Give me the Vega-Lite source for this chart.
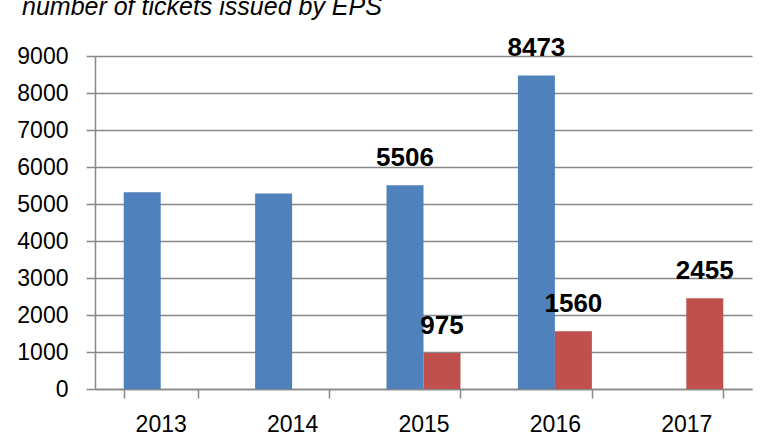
{
  "$schema": "https://vega.github.io/schema/vega-lite/v6.json",
  "width": 657,
  "height": 333,
  "autosize": "none",
  "padding": {"left": 95, "top": 56, "right": 28, "bottom": 50},
  "background": "white",
  "title": {
    "text": "number of tickets issued by EPS",
    "anchor": "start",
    "frame": "group",
    "dx": -73,
    "offset": 10,
    "dy": 15,
    "font": "Liberation Sans",
    "fontSize": 25,
    "fontStyle": "italic",
    "fontWeight": "normal",
    "color": "black",
    "baseline": "alphabetic"
  },
  "config": {"view": {"stroke": null}},
  "data": {
    "values": [
      {"year": "2013", "series": "Series 1", "value": 5320, "label": ""},
      {"year": "2014", "series": "Series 1", "value": 5285, "label": ""},
      {"year": "2015", "series": "Series 1", "value": 5506, "label": "5506"},
      {"year": "2016", "series": "Series 1", "value": 8473, "label": "8473"},
      {"year": "2015", "series": "Series 2", "value": 975, "label": "975"},
      {"year": "2016", "series": "Series 2", "value": 1560, "label": "1560"},
      {"year": "2017", "series": "Series 2", "value": 2455, "label": "2455"}
    ]
  },
  "encoding": {
    "x": {
      "field": "year",
      "type": "nominal",
      "sort": ["2013", "2014", "2015", "2016", "2017"],
      "scale": {"domain": ["2013", "2014", "2015", "2016", "2017"], "paddingInner": 0.437, "paddingOuter": 0.2185},
      "axis": {
        "title": null,
        "labelAngle": 0,
        "tickBand": "extent",
        "tickSize": 9,
        "tickWidth": 1.5,
        "tickColor": "#888888",
        "domainColor": "#888888",
        "domainWidth": 1.5,
        "labelFont": "Liberation Sans",
        "labelFontSize": 23,
        "labelColor": "black",
        "labelPadding": 15,
        "grid": false
      }
    },
    "xOffset": {"field": "series", "type": "nominal", "scale": {"domain": ["Series 1", "Series 2"]}},
    "y": {
      "field": "value",
      "type": "quantitative",
      "scale": {"domain": [0, 9000], "nice": false},
      "axis": {
        "title": null,
        "values": [0, 1000, 2000, 3000, 4000, 5000, 6000, 7000, 8000, 9000],
        "format": "d",
        "tickSize": 9,
        "tickWidth": 1.5,
        "tickColor": "#888888",
        "domainColor": "#888888",
        "domainWidth": 1.5,
        "gridColor": "#888888",
        "gridWidth": 1.5,
        "gridOpacity": 1,
        "labelFont": "Liberation Sans",
        "labelFontSize": 23,
        "labelColor": "black",
        "labelPadding": 18
      }
    }
  },
  "layer": [
    {
      "mark": {"type": "bar"},
      "encoding": {
        "color": {
          "field": "series",
          "type": "nominal",
          "scale": {"domain": ["Series 1", "Series 2"], "range": ["#4F81BD", "#C0504D"]},
          "legend": null
        }
      }
    },
    {
      "mark": {"type": "text", "baseline": "alphabetic", "dy": -19, "font": "Liberation Sans", "fontSize": 26, "fontWeight": "bold", "color": "black"},
      "encoding": {"text": {"field": "label"}}
    }
  ]
}
